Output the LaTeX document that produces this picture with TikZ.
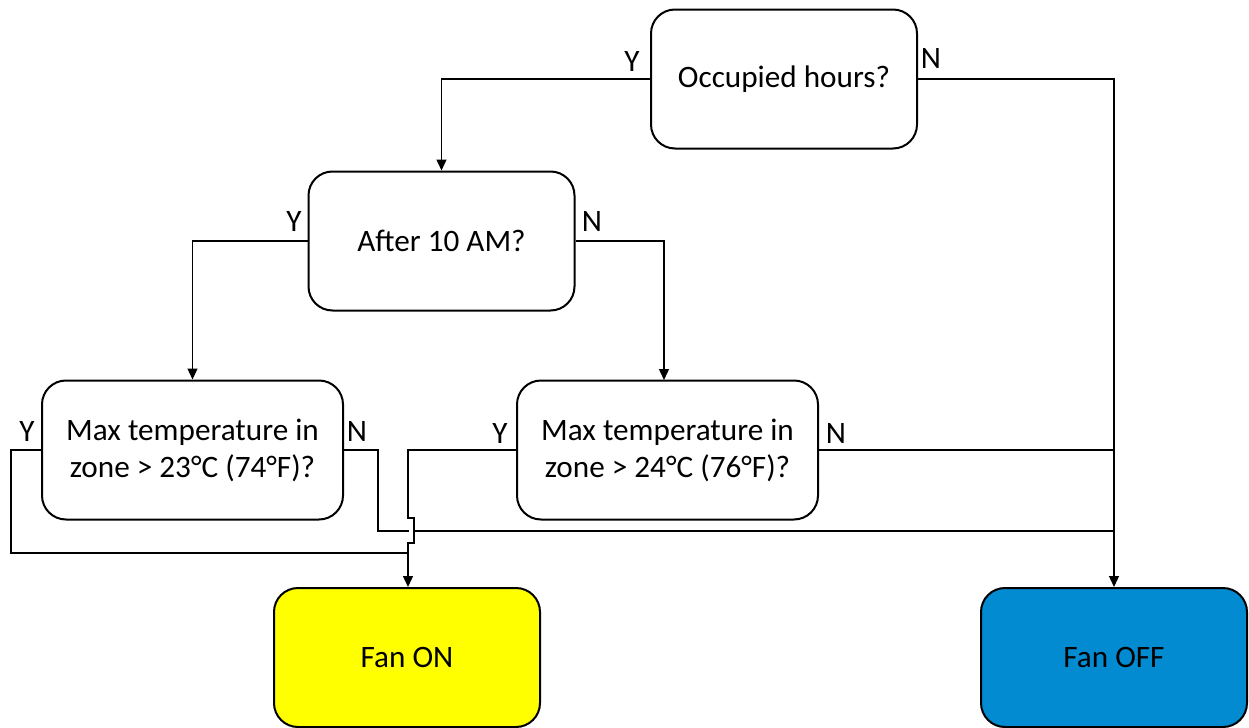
\documentclass[tikz,border=0pt]{standalone}
\usepackage{fontspec}
\setmainfont{Carlito}
\usetikzlibrary{arrows.meta}
\definecolor{fanon}{HTML}{FFFF00}
\definecolor{fanoff}{HTML}{038BD1}
\tikzset{
  box/.style={draw=black, line width=1pt, rounded corners=12pt, fill=white,
    minimum width=133pt, minimum height=69.5pt, align=center, inner sep=0pt,
    font=\fontsize{15.6}{18.5}\selectfont},
  wide/.style={minimum width=150.5pt},
  lbl/.style={font=\fontsize{15.6}{18.5}\selectfont, inner sep=0pt},
  conn/.style={draw=black, line width=0.65pt},
  arr/.style={conn, -{Triangle[width=5pt,length=5.5pt]}}
}
\begin{document}
\begin{tikzpicture}[x=0.5pt,y=-0.5pt]
\useasboundingbox (0,0) rectangle (1249,728);

\node[box] (occ) at (784,79) {Occupied hours?};
\node[box] (after) at (441.5,241) {After 10 AM?};
\node[box,wide] (max1) at (192.5,450) {Max temperature in\\zone > 23°C (74°F)?};
\node[box,wide] (max2) at (667.5,450) {Max temperature in\\zone > 24°C (76°F)?};
\node[box,fill=fanon] (on) at (407,657.5) {Fan ON};
\node[box,fill=fanoff] (off) at (1114,657.5) {Fan OFF};

\node[lbl] (l1) at (632,61) {Y};
\node[lbl] (l2) at (931,58) {N};
\node[lbl] (l3) at (294,221) {Y};
\node[lbl] (l4) at (592,221) {N};
\node[lbl] (l5) at (27,431) {Y};
\node[lbl] (l6) at (357,431) {N};
\node[lbl] (l7) at (500,433) {Y};
\node[lbl] (l8) at (836,433) {N};

\coordinate (m2top) at (664,380);
\coordinate (y1a) at (11,450);
\coordinate (y1b) at (11,553);
\coordinate (y1c) at (408,553);
\coordinate (n1a) at (378,450);
\coordinate (n1b) at (378,531);
\coordinate (n1c) at (1114,531);
\coordinate (n2c) at (1114,450);
\coordinate (y2a) at (408,450);
\coordinate (h1) at (408,518);
\coordinate (h2) at (414,518);
\coordinate (h3) at (414,543);
\coordinate (h4) at (408,543);

\draw[arr] (occ.west) -| (after.north);
\draw[arr] (occ.east) -| (off.north);
\draw[arr] (after.west) -| (max1.north);
\draw[arr] (after.east) -| (m2top);
\draw[conn] (max1.west) -- (y1a) -- (y1b) -- (y1c);
\draw[conn] (max1.east) -- (n1a) -- (n1b) -- (n1c);
\draw[conn] (max2.east) -- (n2c);
\fill[white] (409.2,520) rectangle (412.8,541);
\draw[arr] (max2.west) -- (y2a) -- (h1) -- (h2) -- (h3) -- (h4) -- (h4 |- on.north);
\end{tikzpicture}
\end{document}
